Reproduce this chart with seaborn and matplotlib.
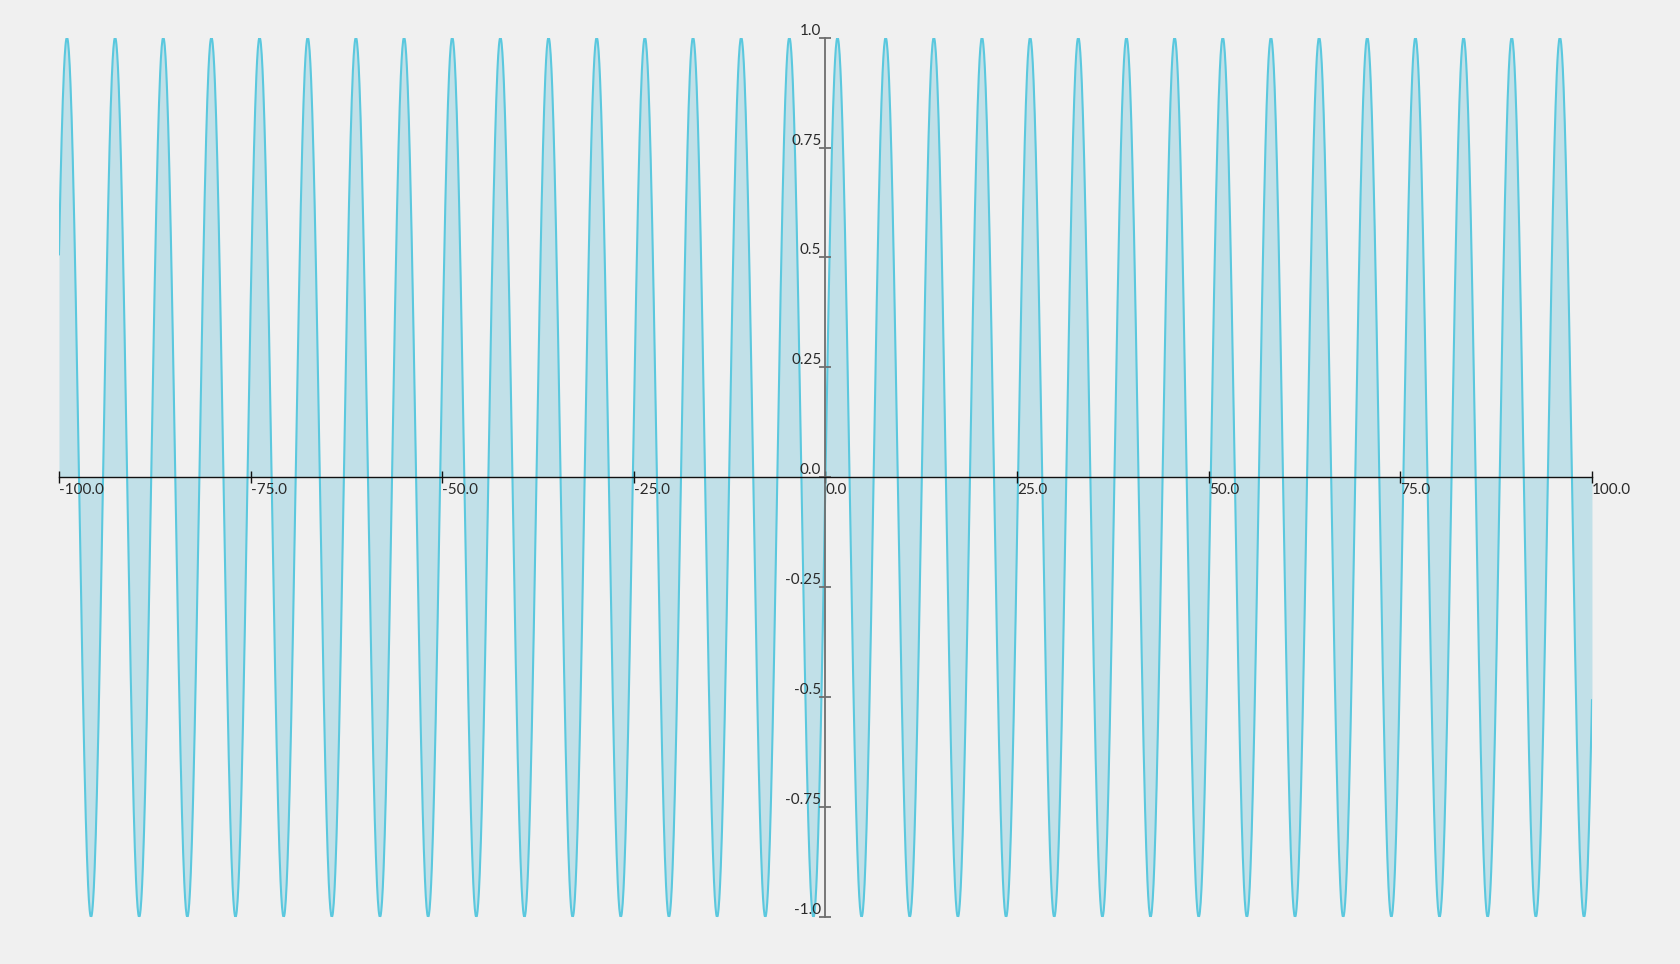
import numpy as np
import pandas as pd
import matplotlib
matplotlib.use("Agg")
import matplotlib.pyplot as plt
import seaborn as sns

# Data: the chart plots y = sin(x) on x in [-100, 100]
x_start, x_end, n_points = -100.0, 100.0, 4001
x_values = np.linspace(x_start, x_end, n_points)
y_values = np.sin(x_values)

x_ticks = [-100, -75, -50, -25, 0, 25, 50, 75, 100]
x_tick_labels = ["-100.0", "-75.0", "-50.0", "-25.0", "0.0", "25.0", "50.0", "75.0", "100.0"]
y_ticks = [1.0, 0.75, 0.5, 0.25, 0.0, -0.25, -0.5, -0.75, -1.0]
y_tick_labels = ["1.0", "0.75", "0.5", "0.25", "0.0", "-0.25", "-0.5", "-0.75", "-1.0"]

df = pd.DataFrame({"x": x_values, "y": y_values})

sns.set_style("white")
plt.rcParams["font.family"] = ["Lato", "DejaVu Sans"]

bg = "#f0f0f0"
fig = plt.figure(figsize=(16.8, 9.64), dpi=100, facecolor=bg)
ax = fig.add_axes([0.0351, 0.0488, 0.9125, 0.9122])
ax.set_facecolor(bg)
ax.set_axisbelow(False)

ax.fill_between(df["x"], df["y"], 0, color="#a8d8e4", alpha=0.65, linewidth=0, zorder=1)
sns.lineplot(data=df, x="x", y="y", ax=ax, color="#5bc8de", linewidth=1.5, estimator=None, sort=False, zorder=2)

ax.set_xlim(-100, 100)
ax.set_ylim(-1, 1)
ax.set_xlabel("")
ax.set_ylabel("")

ax.spines["left"].set_position(("data", 0))
ax.spines["bottom"].set_position(("data", 0))
ax.spines["right"].set_visible(False)
ax.spines["top"].set_visible(False)
ax.spines["left"].set_color("#6e6e6e")
ax.spines["left"].set_linewidth(1.3)
ax.spines["bottom"].set_color("#111111")
ax.spines["bottom"].set_linewidth(1.0)
ax.spines["left"].set_zorder(5)
ax.spines["bottom"].set_zorder(5)

ax.set_xticks(x_ticks)
ax.set_xticklabels(x_tick_labels)
ax.set_yticks(y_ticks)
ax.set_yticklabels(y_tick_labels)

ax.tick_params(axis="x", which="major", bottom=True, direction="inout", length=8, width=1,
               color="#111111", pad=0, labelsize=11)
ax.tick_params(axis="y", which="major", left=True, direction="inout", length=8, width=1.3,
               color="#6e6e6e", pad=-1, labelsize=11)
for lbl in ax.get_xticklabels():
    lbl.set_horizontalalignment("left")
    lbl.set_color("#2a2a2a")
for lbl in ax.get_yticklabels():
    lbl.set_verticalalignment("bottom")
    lbl.set_color("#2a2a2a")

fig.savefig("out.png", dpi=100, facecolor=bg)
